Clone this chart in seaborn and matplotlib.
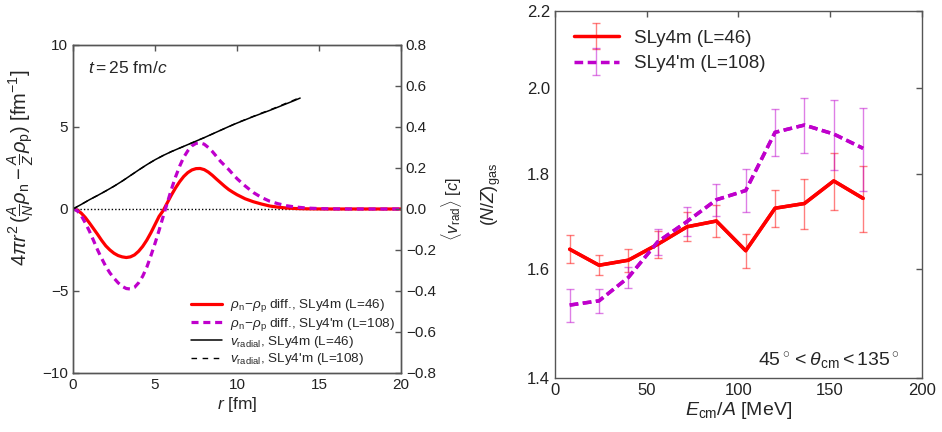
import numpy as np
import pandas as pd
import matplotlib
matplotlib.use("Agg")
import matplotlib.pyplot as plt
import seaborn as sns
from matplotlib.lines import Line2D
from matplotlib.container import ErrorbarContainer
from matplotlib.legend_handler import HandlerErrorbar
from matplotlib.ticker import FixedLocator, FormatStrFormatter, NullLocator

# ---------------- data: left panel ----------------
r_fm = [0.0, 0.25, 0.5, 0.75, 1.0, 1.25, 1.5, 1.75, 2.0, 2.25, 2.5, 2.75, 3.0, 3.25,
        3.5, 3.75, 4.0, 4.25, 4.5, 4.75, 5.0, 5.25, 5.5, 5.75, 6.0, 6.25, 6.5, 6.75,
        7.0, 7.25, 7.5, 7.75, 8.0, 8.25, 8.5, 8.75, 9.0, 9.25, 9.5, 9.75, 10.0,
        10.5, 11.0, 11.5, 12.0, 12.5, 13.0, 13.5, 14.0, 14.5, 15.0, 15.5, 16.0,
        16.5, 17.0, 18.0, 19.0, 20.0]
drho_sly4m = [0.0, -0.07, -0.25, -0.52, -0.85, -1.2, -1.55, -1.92, -2.25, -2.5, -2.7,
              -2.84, -2.92, -2.96, -2.92, -2.8, -2.58, -2.28, -1.9, -1.45, -0.95,
              -0.45, -0.1, 0.38, 0.85, 1.28, 1.66, 1.98, 2.22, 2.38, 2.46, 2.47, 2.4,
              2.25, 2.05, 1.82, 1.6, 1.38, 1.18, 1.02, 0.87,
              0.62, 0.44, 0.3, 0.18, 0.11, 0.06, 0.03, 0.015, 0.007, 0.003, 0.001,
              0.0, 0.0, 0.0, 0.0, 0.0, 0.0]
drho_sly4pm = [0.0, -0.1, -0.4, -0.85, -1.35, -1.92, -2.5, -3.02, -3.5, -3.9, -4.22,
               -4.5, -4.72, -4.85, -4.88, -4.78, -4.5, -4.1, -3.55, -2.85, -2.1,
               -1.3, -0.45, 0.38, 1.2, 1.95, 2.6, 3.15, 3.55, 3.85, 4.0, 4.03, 3.95,
               3.75, 3.5, 3.2, 2.9, 2.65, 2.4, 2.12, 1.85,
               1.4, 1.0, 0.7, 0.47, 0.32, 0.2, 0.13, 0.08, 0.045, 0.025, 0.012,
               0.006, 0.003, 0.001, 0.0, 0.0, 0.0]
r_v = [0.0, 0.5, 1.0, 1.5, 2.0, 2.5, 3.0, 3.5, 4.0, 4.5, 5.0, 5.5, 6.0, 6.5, 7.0,
       7.5, 8.0, 8.5, 9.0, 9.5, 10.0, 10.5, 11.0, 11.5, 12.0, 12.5, 13.0, 13.5, 13.85]
v_sly4m = [0.0, 0.022, 0.045, 0.066, 0.088, 0.111, 0.136, 0.163, 0.19, 0.216, 0.24,
           0.261, 0.28, 0.297, 0.314, 0.331, 0.348, 0.366, 0.384, 0.402, 0.419, 0.435,
           0.451, 0.466, 0.481, 0.497, 0.513, 0.529, 0.541]
v_sly4pm = [0.0, 0.022, 0.045, 0.066, 0.088, 0.111, 0.136, 0.163, 0.19, 0.216, 0.24,
            0.261, 0.28, 0.297, 0.314, 0.331, 0.348, 0.366, 0.384, 0.402, 0.42, 0.436,
            0.452, 0.468, 0.483, 0.499, 0.516, 0.532, 0.545]

# ---------------- data: right panel ----------------
e_cm = [8, 24, 40, 56, 72, 88, 104, 120, 136, 152, 168]
nz_sly4m = [1.640, 1.608, 1.618, 1.650, 1.686, 1.698, 1.637, 1.725, 1.735, 1.784, 1.746]
nz_sly4m_err = [0.028, 0.020, 0.023, 0.027, 0.030, 0.034, 0.035, 0.040, 0.053, 0.063, 0.070]
nz_sly4pm = [1.531, 1.539, 1.584, 1.655, 1.697, 1.743, 1.763, 1.894, 1.911, 1.890, 1.857]
nz_sly4pm_err = [0.031, 0.022, 0.021, 0.027, 0.030, 0.035, 0.047, 0.055, 0.065, 0.082, 0.095]

left_yticks = [-10, -5, 0, 5, 10]
right_yticks = [-0.8, -0.6, -0.4, -0.2, 0.0, 0.2, 0.4, 0.6, 0.8]
nz_ticks = [1.4, 1.6, 1.8, 2.0, 2.2]
e_ticks = [0, 50, 100, 150, 200]

# ---------------- style ----------------
sns.set_style("white")
plt.rcParams["font.family"] = ["Liberation Sans", "DejaVu Sans"]
plt.rcParams["mathtext.fontset"] = "custom"
plt.rcParams["mathtext.rm"] = "Liberation Sans"
plt.rcParams["mathtext.it"] = "Liberation Sans:italic"
plt.rcParams["mathtext.bf"] = "Liberation Sans:bold"
plt.rcParams["axes.edgecolor"] = "#555555"
plt.rcParams["axes.linewidth"] = 1.0

RED = "#ff0000"
PURPLE = "#bf00cc"
SPINE = "#555555"
RED_A = (1.0, 0.0, 0.0, 0.5)
PURPLE_A = (0.75, 0.0, 0.8, 0.5)

fig = plt.figure(figsize=(9.42, 4.32), dpi=100)
ax = fig.add_axes([0.0775, 0.1366, 0.3482, 0.7593])
ax2 = ax.twinx()
axr = fig.add_axes([0.5892, 0.1257, 0.3893, 0.8495])

def style_ticks(a, size, **kw):
    a.tick_params(direction="in", length=4, width=1, color=SPINE, labelsize=size,
                  labelcolor="#222222", **kw)

# ---------------- left panel ----------------
df_rho = pd.DataFrame({"r": r_fm, "a": drho_sly4m, "b": drho_sly4pm})
df_v = pd.DataFrame({"r": r_v, "a": v_sly4m, "b": v_sly4pm})

ax.axhline(0, color="black", lw=1.0, ls=(0, (1, 1.5)), zorder=1)
sns.lineplot(data=df_rho, x="r", y="a", ax=ax, color=RED, lw=2.3, estimator=None,
             sort=False, legend=False)
sns.lineplot(data=df_rho, x="r", y="b", ax=ax, color=PURPLE, lw=2.3, estimator=None,
             sort=False, legend=False)
ax.lines[-1].set_linestyle((0, (2.2, 1.5)))
sns.lineplot(data=df_v, x="r", y="a", ax=ax2, color="black", lw=1.1, estimator=None,
             sort=False, legend=False)
sns.lineplot(data=df_v, x="r", y="b", ax=ax2, color="black", lw=1.0, estimator=None,
             sort=False, legend=False)
ax2.lines[-1].set_linestyle((0, (4, 4)))

ax.set_xlim(0, 20)
ax.set_ylim(-10, 10)
ax.set_yticks(left_yticks)
ax.set_xticks([0, 5, 10, 15, 20])
ax2.set_ylim(-0.8, 0.8)
ax2.set_yticks(right_yticks)
ax2.set_yticklabels([("\u2212" if v < 0 else "") + "%.1f" % abs(v) for v in right_yticks])
ax.set_yticklabels([("\u2212" if v < 0 else "") + "%d" % abs(v) for v in left_yticks])
style_ticks(ax, 11, top=True, right=False)
style_ticks(ax2, 11)
for a in (ax, ax2):
    for s in a.spines.values():
        s.set_color(SPINE)

ax.set_xlabel(r"$r$ [fm]", fontsize=12.5, labelpad=2)
ax.set_ylabel(r"$4\pi r^2\,(\frac{A}{N}\rho_{\rm n}-\frac{A}{Z}\rho_{\rm p})$ [fm$^{-1}$]",
              fontsize=14.5)
ax.yaxis.set_label_coords(-0.112, 0.625)
ax2.set_ylabel(r"$\langle v_{\rm rad}\rangle$ [$c$]", fontsize=12, labelpad=2)
ax.text(0.045, 0.93, r"$t=$25 fm/$c$", transform=ax.transAxes, fontsize=12.5,
        va="center", ha="left")

h_left = [
    Line2D([], [], color=RED, lw=2.3),
    Line2D([], [], color=PURPLE, lw=2.3, ls=(0, (2.2, 1.5))),
    Line2D([], [], color="black", lw=1.1),
    Line2D([], [], color="black", lw=1.0, ls=(0, (4, 4))),
]
l_left = [r"$\rho_{\rm n}\!-\!\rho_{\rm p}$ diff., SLy4m (L=46)",
          r"$\rho_{\rm n}\!-\!\rho_{\rm p}$ diff., SLy4'm (L=108)",
          r"$v_{\rm radial}$, SLy4m (L=46)",
          r"$v_{\rm radial}$, SLy4'm (L=108)"]
ax2.legend(h_left, l_left, loc="lower right", bbox_to_anchor=(1.01, -0.012), frameon=False,
           fontsize=9.7, handlelength=2.3, handletextpad=0.6, labelspacing=0.1,
           borderaxespad=0.3)

# ---------------- right panel ----------------
df_nz = pd.DataFrame({"E": e_cm, "a": nz_sly4m, "b": nz_sly4pm})
eb_a = axr.errorbar(e_cm, nz_sly4m, yerr=nz_sly4m_err, fmt="-", color=RED, lw=2.5,
                    ecolor=RED_A, elinewidth=1.0, capsize=3, capthick=1.0)
eb_b = axr.errorbar(e_cm, nz_sly4pm, yerr=nz_sly4pm_err, fmt="-", color=PURPLE, lw=2.5,
                    ecolor=PURPLE_A, elinewidth=1.0, capsize=3, capthick=1.0)
eb_b.lines[0].set_linestyle((0, (2.5, 1.3)))
sns.lineplot(data=df_nz, x="E", y="a", ax=axr, color=RED, lw=2.5, estimator=None,
             sort=False, legend=False)
sns.lineplot(data=df_nz, x="E", y="b", ax=axr, color=PURPLE, lw=2.5, estimator=None,
             sort=False, legend=False)
axr.lines[-1].set_linestyle((0, (2.5, 1.3)))

axr.set_yscale("log")
axr.set_ylim(1.4, 2.2)
axr.yaxis.set_major_locator(FixedLocator(nz_ticks))
axr.yaxis.set_major_formatter(FormatStrFormatter("%.1f"))
axr.yaxis.set_minor_locator(NullLocator())
axr.set_xlim(0, 200)
axr.set_xticks(e_ticks)
style_ticks(axr, 12, top=True, right=True)
for s in axr.spines.values():
    s.set_color(SPINE)
axr.set_xlabel(r"$E_{\rm cm}/A$ [MeV]", fontsize=14, labelpad=2)
axr.set_ylabel(r"$(N/Z)_{\rm gas}$", fontsize=13, labelpad=17)
axr.text(0.94, 0.045, r"$45^\circ<\theta_{\rm cm}<135^\circ$", transform=axr.transAxes,
         fontsize=14, ha="right", va="center")

axr.legend([eb_a, eb_b], ["SLy4m (L=46)", "SLy4'm (L=108)"], loc="upper left",
           handler_map={ErrorbarContainer: HandlerErrorbar(yerr_size=0.7)},
           frameon=False, fontsize=13.5, handlelength=2.4, handletextpad=0.8,
           labelspacing=0.45, borderaxespad=0.6)

fig.savefig("out.png", dpi=100)
